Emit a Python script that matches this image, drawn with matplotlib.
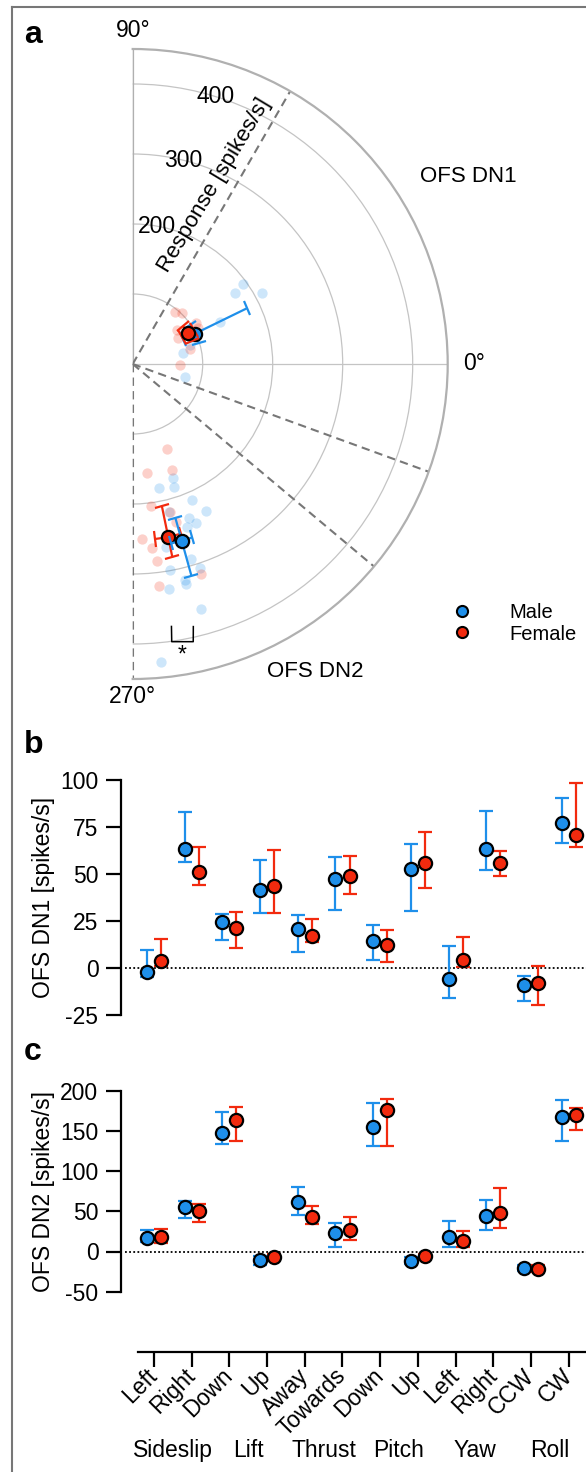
import numpy as np
import matplotlib.pyplot as plt
from matplotlib.lines import Line2D

plt.rcParams['font.family'] = ['Liberation Sans', 'DejaVu Sans']
plt.rcParams['font.size'] = 16.5
plt.rcParams['axes.unicode_minus'] = False

BLUE = '#1E8FEA'
RED = '#F22A0E'
GREY = '#777777'

# ---------------- panel a (polar): angle in deg, response in spikes/s
dn1_male_theta = [36, 34.9, 28.9, 25.8, 11.9, -13.6, 18.3]
dn1_male_r = [194, 178, 210.6, 138.6, 74, 77.3, 86.2]
dn1_female_theta = [51, 46, 32.5, 29.4, 14.4, -1.2, 37.7, 28.5]
dn1_female_r = [96, 100.7, 108, 75, 84.5, 67.6, 79.4, 106.7]
dn2_male_theta = [-70.6, -78.1, -71.6, -66.6, -63.3, -76.2, -69.8, -68.4, -71.6,
                  -79.6, -73.5, -79.7, -71.8, -76.4, -76.4, -80.7, -74.4, -84.6]
dn2_male_r = [173, 181.5, 184.8, 212.4, 234.3, 217.3, 234.9, 243.8, 245,
              265.4, 291, 299, 307.3, 317.5, 323.9, 325.2, 363.3, 428]
dn2_female_theta = [-68.0, -82.7, -69.7, -82.6, -86.9, -84.1, -82.9, -83.3, -71.9, -75.8, -74.7]
dn2_female_r = [131, 157.7, 160.7, 204.1, 250, 263.8, 283.9, 318.9, 315.6, 217.6, 234]

# means (DN1, DN2) with errors
male_mean_theta = [26, -74.5]
male_mean_r = [99, 262]
male_theta_err = [8, 3.5]
male_r_low = [80, 228]
male_r_high = [181, 314]
female_mean_theta = [29, -78.4]
female_mean_r = [90, 252]
female_theta_err = [8, 4.3]
female_r_low = [80, 207]
female_r_high = [100, 282]

axis_angles = [60, -20, -40, -90]
r_labels = [200, 300, 400]
r_label_angles = [80, 76, 72.8]

# ---------------- panels b, c
conditions = ['Left', 'Right', 'Down', 'Up', 'Away', 'Towards',
              'Down', 'Up', 'Left', 'Right', 'CCW', 'CW']
groups = ['Sideslip', 'Lift', 'Thrust', 'Pitch', 'Yaw', 'Roll']

dn1_male = [-2.3, 63.3, 24.3, 41.3, 20.7, 47.3, 14.4, 52.8, -5.9, 63.3, -9.2, 77.1]
dn1_male_lo = [-5, 56.2, 15.1, 29.3, 8.7, 31.0, 4.1, 30.3, -16.0, 52.1, -17.7, 66.3]
dn1_male_hi = [9.4, 82.8, 28.9, 57.4, 28.2, 58.9, 22.9, 65.8, 11.5, 83.7, -4, 90.4]
dn1_female = [3.5, 51.2, 21.5, 43.4, 17.0, 49.1, 12.1, 56.0, 4.1, 55.9, -8.2, 70.9]
dn1_female_lo = [1, 44.1, 10.8, 29.3, 14.0, 39.2, 3.0, 42.6, 0.4, 49.1, -19.9, 64.2]
dn1_female_hi = [15.6, 64.5, 30.0, 62.8, 26.2, 59.4, 20.4, 72.2, 16.7, 62.1, 1.2, 98.2]

dn2_male = [17.0, 55.2, 147.7, -10.0, 61.0, 23.2, 154.8, -11.2, 18.3, 43.6, -20.7, 167.2]
dn2_male_lo = [12, 41.1, 133.2, -17, 44.8, 6.2, 131.1, -16, 5.8, 27.0, -24, 137.8]
dn2_male_hi = [26.6, 63.1, 173, -5, 80.1, 35.7, 185.1, -7, 38.2, 64.3, -17, 188.4]
dn2_female = [18.3, 50.2, 163.9, -6.6, 42.7, 27.0, 175.9, -5.8, 12.9, 48.5, -21.2, 170.1]
dn2_female_lo = [10, 36.9, 137.3, -10, 34.0, 14.9, 131.1, -9, 5.8, 29.5, -25, 150.6]
dn2_female_hi = [28.6, 59.3, 179.7, -3, 56.8, 43.2, 189.6, -3, 25.3, 78.4, -16.2, 178]

W, H = 586, 1472
fig = plt.figure(figsize=(W / 100, H / 100), dpi=100)

# frame
fig.add_artist(Line2D([11.5 / W, 11.5 / W], [0, 1 - 7.3 / H], color=GREY, lw=1.5))
fig.add_artist(Line2D([11.5 / W, 1], [1 - 7.3 / H, 1 - 7.3 / H], color=GREY, lw=1.5))

# ---------------- polar panel
# half-disc wedge sits centred in a square axes box
R = 315
cx, cy = 132.7, 364
ax = fig.add_axes([(cx - R / 2) / W, 1 - (cy + R) / H, 2 * R / W, 2 * R / H], projection='polar')
ax.set_thetamin(-90)
ax.set_thetamax(90)
ax.set_rlim(0, 450)
ax.set_rgrids([100, 200, 300, 400], labels=[''] * 4)
ax.set_thetagrids([0], labels=[''])
ax.tick_params(axis='both', length=0, width=0)
ax.grid(color='#c4c4c4', lw=0.9)
ax.spines['polar'].set_color('#b0b0b0')
ax.spines['polar'].set_linewidth(1.6)
# polar draw() switches start/end back on, so make them transparent instead
for s in ('start', 'end', 'inner'):
    ax.spines[s].set_color('none')
ax.plot([np.pi / 2] * 2, [0, 450], color='#b0b0b0', lw=1.6, zorder=2)

for a in axis_angles:
    ax.plot([np.deg2rad(a)] * 2, [0, 450], color=GREY, lw=1.5, ls=(0, (4, 2.5)), zorder=2)

for r, a in zip(r_labels, r_label_angles):
    ax.text(np.deg2rad(a), r, str(r), ha='center', va='center', fontsize=16.5)
ax.text(np.deg2rad(65.5), 280, 'Response [spikes/s]', rotation=59,
        ha='center', va='center', fontsize=16)
ax.text(np.deg2rad(90), 477, '90°', ha='center', va='center')
ax.text(0, 488, '0°', ha='center', va='center')
ax.text(np.deg2rad(-90), 475, '270°', ha='center', va='center')

ax.scatter(np.deg2rad(dn1_male_theta), dn1_male_r, s=55, color=BLUE, alpha=0.22, lw=0, zorder=3)
ax.scatter(np.deg2rad(dn2_male_theta), dn2_male_r, s=55, color=BLUE, alpha=0.22, lw=0, zorder=3)
ax.scatter(np.deg2rad(dn1_female_theta), dn1_female_r, s=55, color=RED, alpha=0.22, lw=0, zorder=3)
ax.scatter(np.deg2rad(dn2_female_theta), dn2_female_r, s=55, color=RED, alpha=0.22, lw=0, zorder=3)


def polar_mean(i, th, r, th_err, lo, hi, col, z):
    t = np.deg2rad(th[i])
    ax.errorbar([t], [r[i]], xerr=[np.deg2rad(th_err[i])],
                yerr=[[r[i] - lo[i]], [hi[i] - r[i]]], fmt='none', ecolor=col,
                elinewidth=1.6, capsize=5.5, capthick=1.6, zorder=z)
    ax.plot([t], [r[i]], 'o', ms=9.5, mfc=col, mec='black', mew=1.6, zorder=z + 0.5)


# DN1: female on top, DN2: male on top
polar_mean(0, male_mean_theta, male_mean_r, male_theta_err, male_r_low, male_r_high, BLUE, 4)
polar_mean(0, female_mean_theta, female_mean_r, female_theta_err, female_r_low, female_r_high, RED, 5)
polar_mean(1, female_mean_theta, female_mean_r, female_theta_err, female_r_low, female_r_high, RED, 4)
polar_mean(1, male_mean_theta, male_mean_r, male_theta_err, male_r_low, male_r_high, BLUE, 5)

# significance bracket
ax.plot(np.deg2rad([-81.6, -82.0, -77.7, -77.0]), [379, 400.6, 406, 385], color='black', lw=1.1, zorder=6)
ax.text(np.deg2rad(-80.3), 422, '*', ha='center', va='center', fontsize=16.5)

fig.text(468 / W, 1 - 176.7 / H, 'OFS DN1', ha='center', va='center', fontsize=16)
fig.text(315 / W, 1 - 671.7 / H, 'OFS DN2', ha='center', va='center', fontsize=16)

handles = [Line2D([], [], ls='none', marker='o', ms=8, mfc=c, mec='black', mew=1.5) for c in (BLUE, RED)]
fig.legend(handles, ['Male', 'Female'], loc='upper left', bbox_to_anchor=(441.7 / W, 1 - 603.5 / H),
           frameon=False, fontsize=14.5, handlelength=2, handletextpad=1.38,
           labelspacing=0.1, borderpad=0, borderaxespad=0)

# ---------------- panels b and c
xs = np.arange(len(conditions))
off = 0.186
xlim = (-0.883, 11.459)


def dot_panel(axp, m, mlo, mhi, f, flo, fhi):
    for dx, mean, lo, hi, col in [(-off, m, mlo, mhi, BLUE), (off, f, flo, fhi, RED)]:
        mean, lo, hi = np.array(mean), np.array(lo), np.array(hi)
        axp.errorbar(xs + dx, mean, yerr=[mean - lo, hi - mean], fmt='o', ms=9.5,
                     mfc=col, mec='black', mew=1.6, ecolor=col, elinewidth=1.6,
                     capsize=4.8, capthick=1.6, zorder=3)
    axp.axhline(0, xmin=0.01, color='black', lw=1.3, ls=(0, (1, 1.3)), zorder=1)
    axp.set_xlim(*xlim)
    for s in ('top', 'right'):
        axp.spines[s].set_visible(False)
    axp.spines['left'].set_linewidth(1.6)
    axp.spines['bottom'].set_linewidth(1.6)
    axp.tick_params(width=1.6, length=11, labelsize=16.5, pad=5)


L = 120.7
axb = fig.add_axes([L / W, 1 - 1015 / H, (W - L) / W, 235 / H])
dot_panel(axb, dn1_male, dn1_male_lo, dn1_male_hi, dn1_female, dn1_female_lo, dn1_female_hi)
axb.set_ylim(-25, 100)
axb.set_yticks([-25, 0, 25, 50, 75, 100])
axb.spines['bottom'].set_visible(False)
axb.tick_params(axis='x', bottom=False, labelbottom=False)
axb.set_ylabel('OFS DN1 [spikes/s]', va='center')
axb.yaxis.set_label_coords((43.5 - L) / (W - L), 0.5)

axc = fig.add_axes([L / W, 1 - 1291.7 / H, (W - L) / W, 201 / H])
dot_panel(axc, dn2_male, dn2_male_lo, dn2_male_hi, dn2_female, dn2_female_lo, dn2_female_hi)
axc.set_ylim(-50, 200)
axc.set_yticks([-50, 0, 50, 100, 150, 200])
axc.spines['bottom'].set_position(('outward', 43.2))
axc.spines['bottom'].set_bounds(-0.424, xlim[1])
axc.set_xticks(xs)
axc.set_xticklabels(conditions, rotation=45, ha='right', va='center', rotation_mode='anchor')
axc.tick_params(axis='x', pad=4)
axc.set_ylabel('OFS DN2 [spikes/s]', va='center')
axc.yaxis.set_label_coords((43.5 - L) / (W - L), 0.5)
for i, g in enumerate(groups):
    axc.text(2 * i + 0.5, -0.79, g, transform=axc.get_xaxis_transform(),
             ha='center', va='center', fontsize=16.5)

for lab, y in [('a', 43.3), ('b', 753), ('c', 1060)]:
    fig.text(24 / W, 1 - y / H, lab, fontsize=23, fontweight='bold', ha='left', va='baseline')

fig.savefig('out.png', dpi=100)
